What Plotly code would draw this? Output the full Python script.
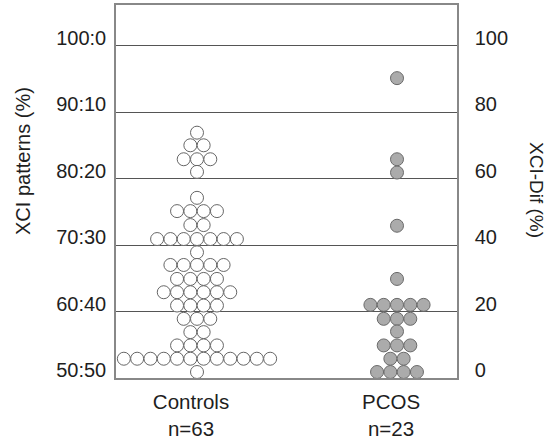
import plotly.graph_objects as go
from collections import Counter

# ---- data ----
categories = ["Controls", "PCOS"]
cat_labels = ["Controls<br>n=63", "PCOS<br>n=23"]

# XCI pattern (% of the major allele) for each subject
controls = ([86.9] * 1 + [85.0] * 2 + [82.9] * 3 + [81.0] * 1 + [77.1] * 1 +
            [75.1] * 4 + [73.0] * 2 + [70.9] * 7 + [68.9] * 1 + [67.0] * 5 +
            [64.9] * 4 + [62.9] * 6 + [60.9] * 4 + [58.9] * 3 + [56.9] * 2 +
            [54.9] * 4 + [52.9] * 12 + [50.9] * 1)
pcos = ([95.1] * 1 + [82.9] * 1 + [80.9] * 1 + [72.9] * 1 + [64.9] * 1 +
        [61.0] * 5 + [58.9] * 3 + [57.0] * 1 + [54.9] * 3 + [52.9] * 2 +
        [50.9] * 4)

left_tickvals = [50, 60, 70, 80, 90, 100]
left_ticktext = ["50:50", "60:40", "70:30", "80:20", "90:10", "100:0"]
right_tickvals = [0, 20, 40, 60, 80, 100]
right_ticktext = ["0", "20", "40", "60", "80", "100"]

# ---- beeswarm layout: dots sharing a value are centred in a row ----
SPACING = 0.0665


def swarm(center, values):
    counts = Counter(values)
    seen = Counter()
    xs, ys = [], []
    for v in values:
        n = counts[v]
        i = seen[v]
        seen[v] += 1
        xs.append(center + (i - (n - 1) / 2) * SPACING)
        ys.append(v)
    return xs, ys


FONT = "Arial, 'Liberation Sans', sans-serif"
TXT = "#1e1e1e"

fig = go.Figure()

cx, cy = swarm(0, controls)
fig.add_trace(go.Scatter(
    x=cx, y=cy, mode="markers", name=categories[0], cliponaxis=False,
    marker=dict(size=13, color="white", line=dict(color="#666666", width=1)),
))
px_, py_ = swarm(1, pcos)
fig.add_trace(go.Scatter(
    x=px_, y=py_, mode="markers", name=categories[1], cliponaxis=False,
    marker=dict(size=13, color="#ababab", line=dict(color="#6a6a6a", width=1)),
))
# invisible trace to activate right axis
fig.add_trace(go.Scatter(x=[0], y=[0], yaxis="y2", mode="markers",
                         marker=dict(opacity=0), showlegend=False, hoverinfo="skip"))

ymin, ymax = 50, 106.1
fig.update_layout(
    width=549, height=440,
    margin=dict(l=116, r=92, t=5, b=62),
    paper_bgcolor="white", plot_bgcolor="white",
    showlegend=False,
    font=dict(family=FONT, size=20, color=TXT),
    xaxis=dict(
        range=[-0.405, 1.30], tickvals=[0, 1], ticktext=cat_labels,
        showgrid=False, zeroline=False, showline=True, mirror=True,
        linecolor="#888888", linewidth=1.5, ticks="", automargin=False,
        ticklabelstandoff=5, ticklabelshift=-6,
        tickfont=dict(size=20.5, color=TXT),
    ),
    yaxis=dict(
        range=[ymin, ymax], tickvals=left_tickvals, ticktext=left_ticktext,
        showgrid=True, gridcolor="#555555", gridwidth=1.3, zeroline=False,
        showline=True, linecolor="#888888", linewidth=1.5, ticks="",
        automargin=False,
        ticklabelstandoff=4, ticklabelshift=-8,
        tickfont=dict(size=20, color=TXT),
    ),
    yaxis2=dict(
        range=[(ymin - 50) * 2, (ymax - 50) * 2], overlaying="y", side="right",
        tickvals=right_tickvals, ticktext=right_ticktext,
        showgrid=False, zeroline=False, showline=True, automargin=False,
        linecolor="#888888", linewidth=1.5, ticks="",
        ticklabelstandoff=12, ticklabelshift=-8,
        tickfont=dict(size=20, color=TXT),
    ),
    annotations=[
        dict(text="XCI patterns (%)", xref="paper", yref="paper",
             x=(23 - 116) / 341, y=(378 - 161) / 373, textangle=-90,
             showarrow=False, font=dict(size=20, color=TXT),
             xanchor="center", yanchor="middle"),
        dict(text="XCI-Dif (%)", xref="paper", yref="paper",
             x=(537 - 116) / 341, y=(378 - 190) / 373, textangle=90,
             showarrow=False, font=dict(size=19, color=TXT),
             xanchor="center", yanchor="middle"),
    ],
)

fig.write_html("out.html",
               config={"displayModeBar": False},
               post_script="document.body.style.margin='0';"
                           "document.body.style.overflow='hidden';")
